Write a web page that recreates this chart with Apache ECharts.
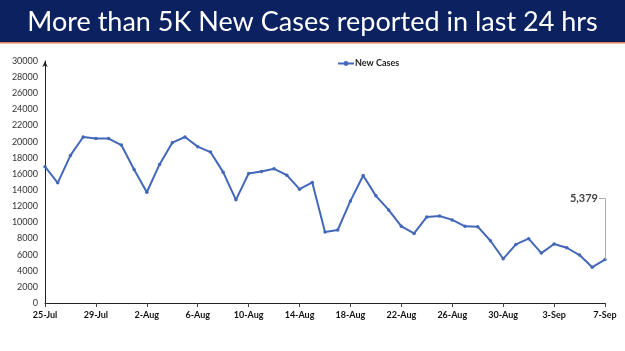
<!DOCTYPE html>
<html>
<head>
<meta charset="utf-8">
<script src="https://cdn.jsdelivr.net/npm/echarts@6/dist/echarts.min.js"></script>
<style>
html,body{margin:0;padding:0;background:#fff;}
#chart{width:625px;height:351px;}
</style>
</head>
<body>
<div id="chart"></div>
<script>
var titleText = 'More than 5K New Cases reported in last 24 hrs';
var seriesName = 'New Cases';
var categories = [
  '25-Jul','26-Jul','27-Jul','28-Jul','29-Jul','30-Jul','31-Jul',
  '1-Aug','2-Aug','3-Aug','4-Aug','5-Aug','6-Aug','7-Aug','8-Aug','9-Aug','10-Aug',
  '11-Aug','12-Aug','13-Aug','14-Aug','15-Aug','16-Aug','17-Aug','18-Aug','19-Aug','20-Aug',
  '21-Aug','22-Aug','23-Aug','24-Aug','25-Aug','26-Aug','27-Aug','28-Aug','29-Aug','30-Aug','31-Aug',
  '1-Sep','2-Sep','3-Sep','4-Sep','5-Sep','6-Sep','7-Sep'
];
var newCases = [
  16900,14900,18300,20580,20380,20380,19580,
  16560,13730,17180,19880,20580,19380,18710,16220,12790,16060,
  16310,16640,15850,14110,14940,8800,9050,12660,15810,13280,
  11540,9500,8630,10670,10790,10300,9500,9460,7720,5480,7260,
  7970,6190,7310,6850,5940,4440,5379
];
var yMin = 0, yMax = 30000, yStep = 2000;
var calloutTop = 12950;

var chart = echarts.init(document.getElementById('chart'));
var lastIdx = newCases.length - 1;
var lastVal = newCases[lastIdx];
var fmt = function(v){ return v.toString().replace(/\B(?=(\d{3})+(?!\d))/g, ','); };

chart.setOption({
  animation: false,
  backgroundColor: '#ffffff',
  graphic: [
    { type: 'rect', left: 0, top: 0, shape: { width: 625, height: 42 }, style: { fill: '#0b2160' }, z: -1 },
    { type: 'rect', left: 0, top: 42, shape: { width: 625, height: 1.5 }, style: { fill: '#e0805a' }, z: -1 }
  ],
  title: {
    text: titleText,
    left: 'center',
    top: 4,
    textStyle: { color: '#ffffff', fontSize: 27, fontWeight: 'normal', fontFamily: 'Lato' }
  },
  legend: {
    data: [seriesName],
    left: 332,
    top: 54,
    itemWidth: 16,
    itemHeight: 6,
    itemGap: 0,
    textStyle: { fontSize: 9, fontFamily: 'Lato', color: '#222', fontWeight: 'bold', padding: [0,0,0,-4] }
  },
  grid: { left: 45, right: 20, top: 61, bottom: 48, containLabel: false },
  xAxis: {
    type: 'category',
    data: categories,
    boundaryGap: false,
    axisLine: { lineStyle: { color: '#222', width: 1 } },
    axisTick: { show: true, interval: 3, length: 4, lineStyle: { color: '#444' } },
    axisLabel: { interval: 3, fontSize: 9, fontWeight: 'bold', color: '#111', fontFamily: 'Lato', margin: 8 },
    splitLine: { show: false }
  },
  yAxis: {
    type: 'value',
    min: yMin, max: yMax, interval: yStep,
    axisLine: { show: true, symbol: ['none', 'arrow'], symbolSize: [4, 6], lineStyle: { color: '#222', width: 1 } },
    axisTick: { show: false },
    axisLabel: { fontSize: 9, color: '#333', fontFamily: 'Lato', margin: 7, formatter: function(v){ return String(v); } },
    splitLine: { show: false }
  },
  series: [{
    name: seriesName,
    type: 'line',
    data: newCases,
    symbol: 'circle',
    symbolSize: 3.5,
    lineStyle: { color: '#4468b8', width: 2 },
    itemStyle: { color: '#4468b8' },
    markLine: {
      silent: true,
      symbol: ['none', 'none'],
      lineStyle: { color: '#aaaaaa', width: 1, type: 'solid' },
      label: { show: false },
      data: [[ { coord: [lastIdx, lastVal] }, { coord: [lastIdx, calloutTop] } ]]
    },
    markPoint: {
      symbol: 'rect',
      symbolSize: [6, 1],
      symbolOffset: [-3, 0],
      itemStyle: { color: '#aaaaaa' },
      label: {
        show: true,
        position: 'left',
        distance: 1,
        formatter: fmt(lastVal),
        fontSize: 11,
        fontWeight: 'bold',
        color: '#444',
        fontFamily: 'Lato'
      },
      data: [{ coord: [lastIdx, calloutTop] }]
    }
  }]
});
</script>
</body>
</html>
